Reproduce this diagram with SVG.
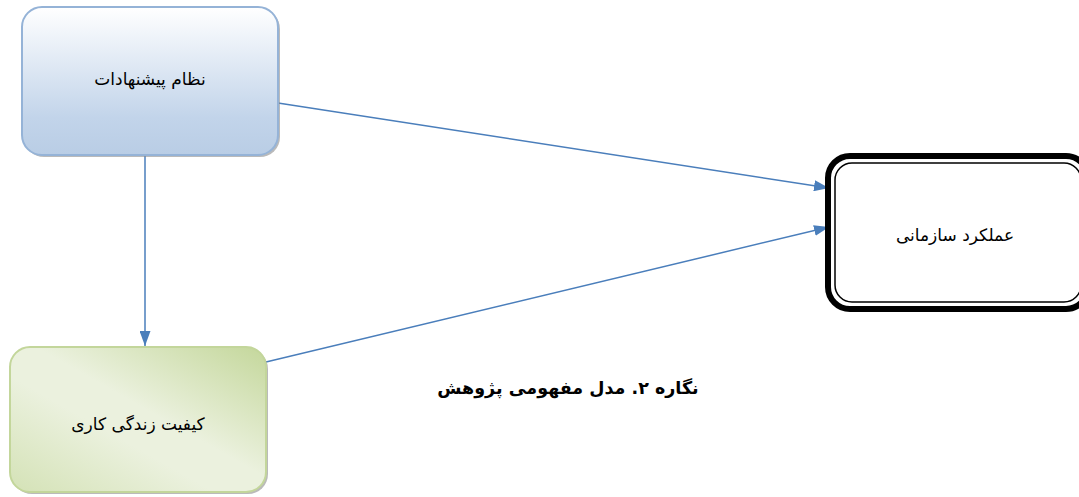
<svg xmlns="http://www.w3.org/2000/svg" width="1079" height="497" viewBox="0 0 1079 497">
<style>
.lbl{font-family:"DejaVu Sans","Noto Sans",sans-serif;font-size:17px;fill:#000;text-anchor:middle;direction:rtl;unicode-bidi:embed}
.cap{font-family:"DejaVu Sans","Noto Sans",sans-serif;font-size:17.5px;font-weight:bold;fill:#000;text-anchor:middle;direction:rtl;unicode-bidi:embed}
.conn{stroke:#4a7ebb;stroke-width:1.5;fill:none}
</style>
<defs>
<linearGradient id="gBlue" x1="0" y1="0" x2="0" y2="1">
<stop offset="0" stop-color="#ffffff"/>
<stop offset="0.75" stop-color="#c2d4ea"/>
<stop offset="1" stop-color="#b9cde5"/>
</linearGradient>
<linearGradient id="gGreen" x1="1" y1="0" x2="0" y2="1">
<stop offset="0" stop-color="#c4d79b"/>
<stop offset="0.45" stop-color="#ebf1de"/>
<stop offset="0.6" stop-color="#ebf1de"/>
<stop offset="1" stop-color="#d4e2b6"/>
</linearGradient>
<marker id="arrL" viewBox="0 0 15 11" refX="15" refY="5.5" markerWidth="15" markerHeight="11" markerUnits="userSpaceOnUse" orient="auto">
<path d="M0,0 L15,5.5 L0,11 z" fill="#4a7ebb"/>
</marker>
</defs>
<g id="connectors">
<line class="conn" x1="278" y1="103" x2="829" y2="188" marker-end="url(#arrL)"/>
<line class="conn" x1="266" y1="362" x2="829" y2="227" marker-end="url(#arrL)"/>
<line class="conn" x1="145" y1="156" x2="145" y2="346" marker-end="url(#arrL)"/>
</g>
<g id="node-suggestions">
<rect x="24" y="9" width="256" height="148" rx="20" fill="#8c8c8c" opacity="0.6"/>
<rect x="22" y="7" width="256" height="148" rx="20" fill="url(#gBlue)" stroke="#95b3d7" stroke-width="2"/>
<text class="lbl" x="150" y="85">نظام پیشنهادات</text>
</g>
<g id="node-qwl">
<rect x="12" y="349" width="256" height="145" rx="20" fill="#8c8c8c" opacity="0.6"/>
<rect x="10" y="347" width="256" height="145" rx="20" fill="url(#gGreen)" stroke="#c3d69b" stroke-width="2"/>
<text class="lbl" x="138" y="430">کیفیت زندگی کاری</text>
</g>
<g id="node-performance">
<rect x="828" y="156" width="260" height="153" rx="22" fill="#fff" stroke="#000" stroke-width="6"/>
<rect x="835" y="163" width="246" height="139" rx="17" fill="#fff" stroke="#000" stroke-width="1.5"/>
<text class="lbl" x="955" y="241">عملکرد سازمانی</text>
</g>
<text class="cap" x="568" y="394">نگاره ۲. مدل مفهومی پژوهش</text>
</svg>
